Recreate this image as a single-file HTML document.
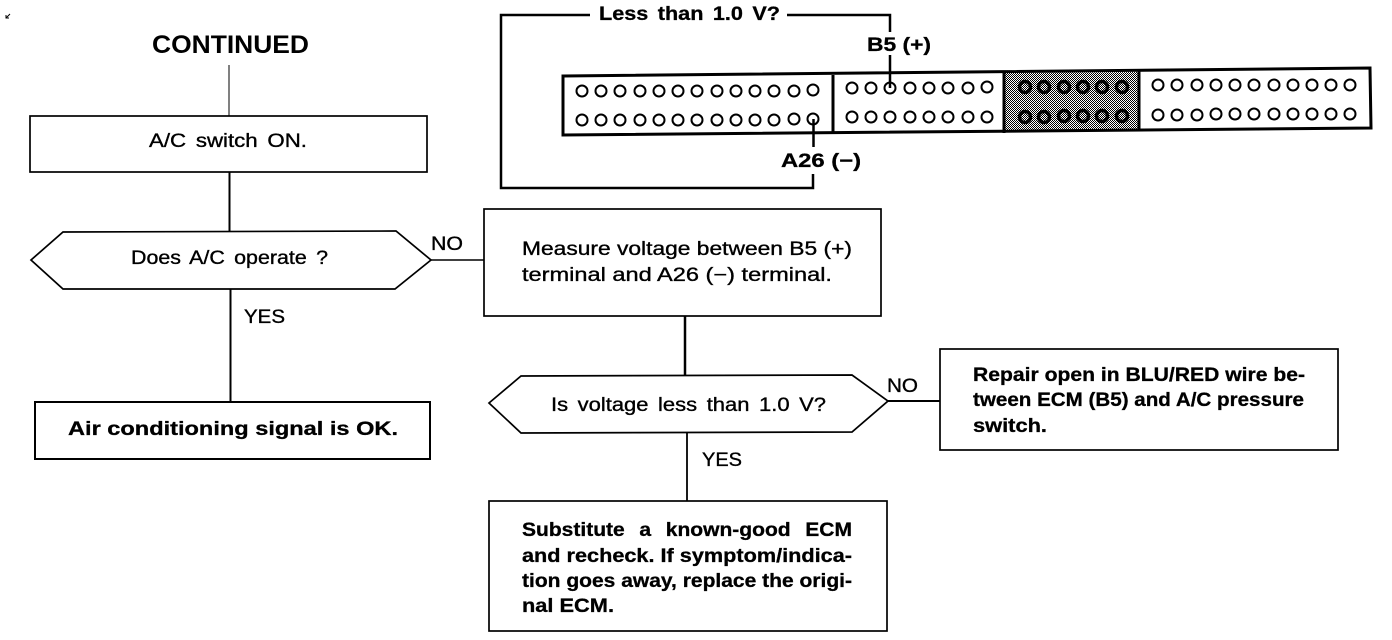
<!DOCTYPE html>
<html><head><meta charset="utf-8"><style>
html,body{margin:0;padding:0;background:#fff;width:1392px;height:640px;overflow:hidden}
svg{display:block}
text{font-family:"Liberation Sans",sans-serif;fill:#000}
.n{font-size:19px;stroke:#000;stroke-width:.35px}
.b{font-size:19px;font-weight:bold;stroke:#000;stroke-width:.3px}
.s{fill:none;stroke:#000;stroke-width:1.7}
</style></head><body>
<svg width="1392" height="640" viewBox="0 0 1392 640" xmlns="http://www.w3.org/2000/svg">
<defs><pattern id="d" width="2" height="2" patternUnits="userSpaceOnUse"><rect width="2" height="2" fill="#fff"/><rect width="1" height="1" fill="#000"/><rect x="1" y="1" width="1" height="1" fill="#000"/></pattern></defs>
<path d="M6 18L10 14M6 15V18H9" fill="none" stroke="#000" stroke-width="1"/>
<text x="152" y="53" font-size="25" font-weight="bold" textLength="157" lengthAdjust="spacingAndGlyphs">CONTINUED</text>
<path d="M229 65V116" stroke="#000" stroke-width="1"/>
<path d="M229.500 172V232" stroke="#000" stroke-width="2"/>
<path d="M230.500 289V402" stroke="#000" stroke-width="2"/>
<path d="M431 260H484" stroke="#000" stroke-width="1.500"/>
<path d="M685 316V375" stroke="#000" stroke-width="2.500"/>
<path d="M887 401H940" stroke="#000" stroke-width="2"/>
<path d="M687 433V501" stroke="#000" stroke-width="1.800"/>
<rect class="s" x="30" y="116" width="397" height="56"/>
<polygon class="s" points="31,260 63,232 396,231 431,260 395,289 63,289"/>
<rect class="s" x="35" y="402" width="395" height="57" style="stroke-width:2"/>
<rect class="s" x="484" y="209" width="397" height="107"/>
<polygon class="s" points="489,403 521,376 852,375 888,401 852,432 521,433"/>
<rect class="s" x="940" y="349" width="398" height="101"/>
<rect class="s" x="489" y="501" width="398" height="130"/>
<text class="n" x="149" y="147" textLength="158" lengthAdjust="spacingAndGlyphs" word-spacing="3">A/C switch ON.</text>
<text class="n" x="131" y="264" textLength="197" lengthAdjust="spacingAndGlyphs" word-spacing="3">Does A/C operate ?</text>
<text class="n" x="431" y="250" textLength="32" lengthAdjust="spacingAndGlyphs">NO</text>
<text class="n" x="244" y="323" textLength="41" lengthAdjust="spacingAndGlyphs">YES</text>
<text class="b" x="68" y="435" textLength="330" lengthAdjust="spacingAndGlyphs">Air conditioning signal is OK.</text>
<text class="n" x="522" y="255" textLength="330" lengthAdjust="spacingAndGlyphs">Measure voltage between B5 (+)</text>
<text class="n" x="522" y="281" textLength="310" lengthAdjust="spacingAndGlyphs">terminal and A26 (−) terminal.</text>
<text class="n" x="551" y="411" textLength="275" lengthAdjust="spacingAndGlyphs" word-spacing="3">Is voltage less than 1.0 V?</text>
<text class="n" x="887" y="392" textLength="31" lengthAdjust="spacingAndGlyphs">NO</text>
<text class="n" x="702" y="466" textLength="40" lengthAdjust="spacingAndGlyphs">YES</text>
<text class="b" x="973" y="381" textLength="332" lengthAdjust="spacingAndGlyphs">Repair open in BLU/RED wire be-</text>
<text class="b" x="973" y="406" textLength="331" lengthAdjust="spacingAndGlyphs">tween ECM (B5) and A/C pressure</text>
<text class="b" x="973" y="432" textLength="74" lengthAdjust="spacingAndGlyphs">switch.</text>
<text class="b" x="522" y="536" textLength="330" lengthAdjust="spacingAndGlyphs" word-spacing="8">Substitute a known-good ECM</text>
<text class="b" x="522" y="562" textLength="330" lengthAdjust="spacingAndGlyphs">and recheck. If symptom/indica-</text>
<text class="b" x="522" y="587" textLength="330" lengthAdjust="spacingAndGlyphs">tion goes away, replace the origi-</text>
<text class="b" x="522" y="612" textLength="92" lengthAdjust="spacingAndGlyphs">nal ECM.</text>
<path d="M590 15H501V188H813V174" fill="none" stroke="#000" stroke-width="2.500"/>
<path d="M787 15H890V32M890 55V88M813.500 119V147" fill="none" stroke="#000" stroke-width="2.500"/>
<text class="b" x="599" y="20" textLength="181" lengthAdjust="spacingAndGlyphs" word-spacing="3">Less than 1.0 V?</text>
<text class="b" x="867" y="51" textLength="64" lengthAdjust="spacingAndGlyphs">B5 (+)</text>
<text class="b" x="781" y="167" textLength="80" lengthAdjust="spacingAndGlyphs">A26 (−)</text>
<polygon points="1005,73 1138,72 1138,131 1005,132" fill="url(#d)"/>
<polygon points="563,76 1370,68 1371,128 563,135" fill="none" stroke="#000" stroke-width="3"/>
<path d="M833 75V134M1004 73V133M1139 71V131" stroke="#000" stroke-width="3" fill="none"/>
<g fill="none" stroke="#000" stroke-width="2">
<circle cx="582" cy="91" r="5.500"/><circle cx="601" cy="91" r="5.500"/><circle cx="620" cy="91" r="5.500"/><circle cx="640" cy="91" r="5.500"/><circle cx="659" cy="91" r="5.500"/><circle cx="678" cy="91" r="5.500"/><circle cx="697" cy="91" r="5.500"/><circle cx="717" cy="91" r="5.500"/><circle cx="736" cy="91" r="5.500"/><circle cx="755" cy="91" r="5.500"/><circle cx="774" cy="91" r="5.500"/><circle cx="794" cy="91" r="5.500"/><circle cx="813" cy="90" r="5.500"/>
<circle cx="582" cy="120" r="5.500"/><circle cx="601" cy="120" r="5.500"/><circle cx="620" cy="120" r="5.500"/><circle cx="640" cy="120" r="5.500"/><circle cx="659" cy="120" r="5.500"/><circle cx="678" cy="120" r="5.500"/><circle cx="697" cy="120" r="5.500"/><circle cx="717" cy="120" r="5.500"/><circle cx="736" cy="120" r="5.500"/><circle cx="755" cy="120" r="5.500"/><circle cx="774" cy="120" r="5.500"/><circle cx="794" cy="119" r="5.500"/><circle cx="813" cy="119" r="5.500"/>
<circle cx="852" cy="88" r="5.500"/><circle cx="871" cy="88" r="5.500"/><circle cx="890" cy="88" r="5.500"/><circle cx="910" cy="88" r="5.500"/><circle cx="929" cy="88" r="5.500"/><circle cx="948" cy="88" r="5.500"/><circle cx="968" cy="88" r="5.500"/><circle cx="987" cy="87" r="5.500"/>
<circle cx="852" cy="117" r="5.500"/><circle cx="871" cy="117" r="5.500"/><circle cx="890" cy="117" r="5.500"/><circle cx="910" cy="117" r="5.500"/><circle cx="929" cy="117" r="5.500"/><circle cx="948" cy="117" r="5.500"/><circle cx="968" cy="117" r="5.500"/><circle cx="987" cy="117" r="5.500"/>
<circle cx="1158" cy="85" r="5.500"/><circle cx="1177" cy="85" r="5.500"/><circle cx="1197" cy="85" r="5.500"/><circle cx="1216" cy="85" r="5.500"/><circle cx="1235" cy="85" r="5.500"/><circle cx="1254" cy="85" r="5.500"/><circle cx="1274" cy="85" r="5.500"/><circle cx="1293" cy="85" r="5.500"/><circle cx="1312" cy="85" r="5.500"/><circle cx="1331" cy="85" r="5.500"/><circle cx="1350" cy="85" r="5.500"/>
<circle cx="1158" cy="115" r="5.500"/><circle cx="1177" cy="115" r="5.500"/><circle cx="1197" cy="115" r="5.500"/><circle cx="1216" cy="114" r="5.500"/><circle cx="1235" cy="114" r="5.500"/><circle cx="1254" cy="114" r="5.500"/><circle cx="1274" cy="114" r="5.500"/><circle cx="1293" cy="114" r="5.500"/><circle cx="1312" cy="114" r="5.500"/><circle cx="1331" cy="114" r="5.500"/><circle cx="1350" cy="114" r="5.500"/>
<g stroke-width="3.500"><circle cx="1025" cy="87" r="5.500"/><circle cx="1044" cy="87" r="5.500"/><circle cx="1064" cy="87" r="5.500"/><circle cx="1083" cy="87" r="5.500"/><circle cx="1102" cy="87" r="5.500"/><circle cx="1122" cy="87" r="5.500"/>
<circle cx="1025" cy="117" r="5.500"/><circle cx="1044" cy="117" r="5.500"/><circle cx="1064" cy="116" r="5.500"/><circle cx="1083" cy="116" r="5.500"/><circle cx="1102" cy="116" r="5.500"/><circle cx="1122" cy="116" r="5.500"/></g>
</g>
</svg>
</body></html>
